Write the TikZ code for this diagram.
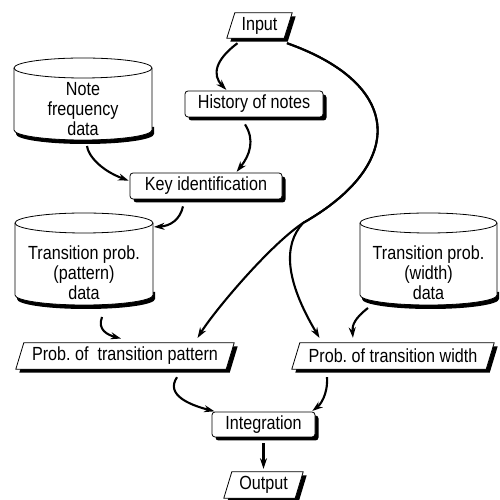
\documentclass[tikz,border=0pt]{standalone}
\usepackage{fontspec}
\setmainfont{Liberation Sans}[FakeStretch=0.85]
\usetikzlibrary{arrows.meta,calc,shadows}
\pgfdeclarelayer{bg}
\pgfsetlayers{bg,main}
\tikzset{
  txt/.style={font=\fontsize{19}{20}\selectfont, inner sep=0pt, align=center},
  rbox/.style={txt, draw, line width=0.8pt, fill=white, rounded corners=3pt,
    drop shadow={shadow xshift=3.5pt, shadow yshift=-3.5pt, fill=black, opacity=1}},
  outline/.style={draw, line width=0.8pt, fill=white},
  shade/.style={fill=black},
  conn/.style={line width=2.1pt, -{Stealth[length=10.5pt,width=7pt]}, shorten >=1pt},
}
% parallelogram node: name, x, y, mid width, height, text
\newcommand\paranode[6]{%
  \node[txt, minimum width=#4pt, minimum height=#5pt] (#1) at (#2,#3) {#6};
  \begin{pgfonlayer}{bg}
    \path[shade] ([xshift=-0.5pt,yshift=-3.5pt]#1.south west) -- ([xshift=-0.5pt,yshift=-3.5pt]#1.south east)
      -- ([xshift=7.5pt,yshift=-3.5pt]#1.north east) -- ([xshift=7.5pt,yshift=-3.5pt]#1.north west) -- cycle;
    \path[outline] ([xshift=-4pt]#1.south west) -- ([xshift=-4pt]#1.south east)
      -- ([xshift=4pt]#1.north east) -- ([xshift=4pt]#1.north west) -- cycle;
  \end{pgfonlayer}}
% cylinder node: name, cx, ytop, ybottom, width, text y, text
\newcommand\dbnode[7]{%
  \node[txt] (#1) at (#2,#6) {#7};
  \pgfmathsetmacro\cyL{#2-#5/2}
  \pgfmathsetmacro\cyR{#2+#5/2}
  \pgfmathsetmacro\cyT{#3-10}
  \pgfmathsetmacro\cyB{#4+10}
  \pgfmathsetmacro\cyX{#5/2}
  \coordinate (#1-top) at (#2,#3);
  \coordinate (#1-bot) at (#2,#4);
  \coordinate (#1-e) at (\cyR,\cyT);
  \begin{pgfonlayer}{bg}
    \fill[shade] (\cyL+2,\cyB-4) arc[start angle=180,end angle=360,x radius=\cyX,y radius=10]
      -- (\cyR+2,\cyB+3) -- (\cyL+2,\cyB+3) -- cycle;
    \path[outline] (\cyL,\cyT) -- (\cyL,\cyB) arc[start angle=180,end angle=360,x radius=\cyX,y radius=10]
      -- (\cyR,\cyT) arc[start angle=0,end angle=180,x radius=\cyX,y radius=10] -- cycle;
    \draw[line width=0.8pt] (\cyL,\cyT) arc[start angle=180,end angle=360,x radius=\cyX,y radius=10];
  \end{pgfonlayer}}
\begin{document}
\begin{tikzpicture}[x=1pt,y=1pt]
  \begin{pgfonlayer}{bg}
    \fill[white] (0,0) rectangle (500,500);
  \end{pgfonlayer}
  \useasboundingbox (0,0) rectangle (500,500);

  \paranode{in}{259.5}{474.5}{57}{25}{Input}
  \node[rbox, minimum width=138pt, minimum height=26pt] (hist) at (254,396) {History of notes};
  \dbnode{nf}{83}{442}{360}{138}{391}{Note\\frequency\\data}
  \node[rbox, minimum width=152pt, minimum height=26pt] (key) at (206,314) {Key identification};
  \dbnode{tp}{84}{287}{195}{138}{227}{Transition prob.\\(pattern)\\data}
  \dbnode{tw}{428.5}{287}{195}{137}{227}{Transition prob.\\(width)\\data}
  \paranode{pp}{125}{144}{210}{26}{Prob.\ of\ \ transition pattern}
  \paranode{pw}{393}{144}{194}{26}{Prob.\ of transition width}
  \node[rbox, minimum width=103pt, minimum height=25pt] (integ) at (263.5,75.5) {Integration};
  \paranode{out}{263.5}{15}{71}{26}{Output}
  \coordinate (split) at (303,277);

  \draw[conn] ([shift={(-22pt,-5pt)}]in.south) .. controls (215,440) and (212,425) .. ([xshift=-27pt]hist.north);
  \draw[conn] ([shift={(-9pt,-7pt)}]hist.south) .. controls (255,360) and (250,345) .. ([xshift=30pt]key.north);
  \draw[conn] ([shift={(4pt,-6pt)}]nf-bot) .. controls (88,345) and (100,330) .. ([yshift=5pt]key.west);
  \draw[conn] ([shift={(-23pt,-7pt)}]key.south) .. controls (180,280) and (170,274) .. ([yshift=-4pt]tp-e);
  \draw[conn] ([shift={(18pt,-12pt)}]tp-bot) .. controls (97,170) and (108,165) .. ([shift={(-3pt,4pt)}]pp.north);
  \draw[conn] ([shift={(27.5pt,-5pt)}]in.south) .. controls (405,415) and (405,335) .. (split)
     .. controls (270,255) and (215,190) .. ([shift={(72pt,4pt)}]pp.north);
  \draw[conn] ([shift={(27.5pt,-5pt)}]in.south) .. controls (405,415) and (405,335) .. (split)
     .. controls (283,255) and (285,220) .. ([shift={(-73pt,4pt)}]pw.north);
  \draw[conn] ([shift={(-60.5pt,-3pt)}]tw-bot) .. controls (355,182) and (352,175) .. ([shift={(-40pt,4pt)}]pw.north);
  \draw[conn] ([shift={(52pt,-8pt)}]pp.south) .. controls (165,105) and (190,95) .. ([xshift=-48pt]integ.north);
  \draw[conn] ([shift={(-66pt,-8pt)}]pw.south) .. controls (328,105) and (320,95) .. ([xshift=48pt]integ.north);
  \draw[conn] ([yshift=-6pt]integ.south) -- ([yshift=2pt]out.north);
\end{tikzpicture}
\end{document}
